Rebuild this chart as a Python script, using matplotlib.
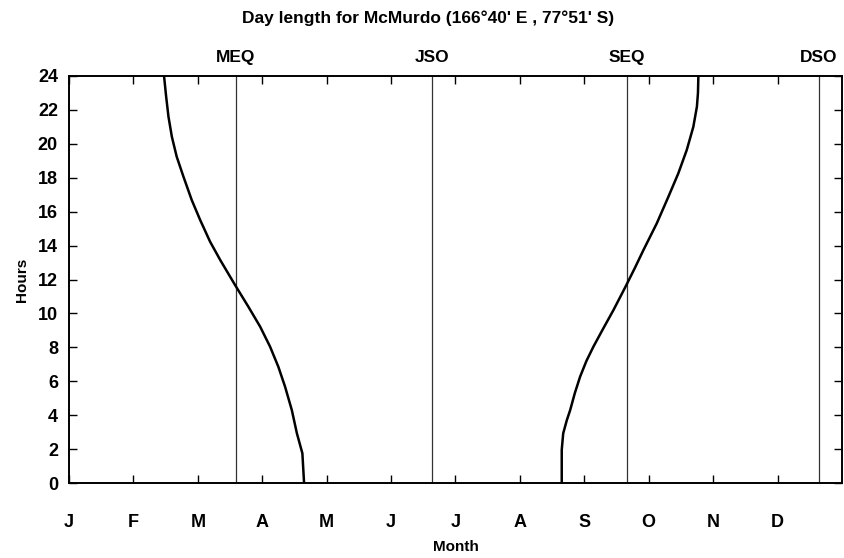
import numpy as np
import matplotlib
matplotlib.use("Agg")
import matplotlib.pyplot as plt
import matplotlib.transforms as mtransforms

# datos (dia del año, horas de luz)
otono_dia = [45.0, 46.0, 47.1, 48.7, 51.0, 54.2, 58.1, 62.1, 66.8, 71.6,
             78.6, 84.9, 90.5, 95.2, 99.1, 102.3, 105.5, 107.9, 110.5, 111.3]
otono_horas = [24.0, 22.78, 21.6, 20.42, 19.24, 18.06, 16.69, 15.51, 14.23, 13.15,
               11.68, 10.40, 9.22, 8.04, 6.86, 5.68, 4.30, 2.93, 1.75, 0.0]

primavera_dia = [233.3, 233.3, 234.0, 235.7, 237.3, 239.5, 242.0, 245.0, 248.3,
                 253.0, 257.8, 263.6, 268.0, 272.0, 278.3, 283.8, 288.5,
                 292.5, 295.6, 297.3, 297.8, 298.0]
primavera_horas = [0.0, 1.95, 2.93, 3.7, 4.30, 5.3, 6.27, 7.2, 8.04,
                   9.12, 10.2, 11.6, 12.7, 13.74, 15.31, 16.88, 18.26,
                   19.64, 21.0, 22.19, 23.0, 24.0]

meses = ['J', 'F', 'M', 'A', 'M', 'J', 'J', 'A', 'S', 'O', 'N', 'D']
eventos = ['MEQ', 'JSO', 'SEQ', 'DSO']
eventos_dia = [79, 172, 264, 355]

plt.rcParams['font.family'] = ['Liberation Sans', 'DejaVu Sans']

fig = plt.figure(figsize=(8.44, 5.58), dpi=100)
ax = fig.add_axes([69 / 844, 1 - 483 / 558, (842 - 69) / 844, (483 - 76) / 558])

# lineas de equinoccios y solsticios
trans = mtransforms.blended_transform_factory(ax.transData, ax.transAxes)
for nombre, d in zip(eventos, eventos_dia):
    ax.axvline(d, color='#333333', lw=0.9)
    ax.text(d, 1.027, nombre, transform=trans, ha='center', va='bottom',
            fontsize=12.5, fontweight='bold')

ax.plot(otono_dia, otono_horas, color='black', lw=1.8)
ax.plot(primavera_dia, primavera_horas, color='black', lw=1.8)

ax.set_xlim(0, 366)
ax.set_ylim(0, 24)
ax.set_xticks(np.arange(12) * 366 / 12)
ax.set_xticklabels(meses, fontsize=13, fontweight='bold')
ax.set_yticks(np.arange(0, 25, 2))
ax.set_yticklabels([str(v) for v in range(0, 25, 2)], fontsize=13, fontweight='bold')
ax.tick_params(axis='x', direction='in', length=6, width=1, pad=22, top=True)
ax.tick_params(axis='y', direction='in', length=6, width=1, pad=8, right=True)
for s in ax.spines.values():
    s.set_linewidth(1.4)

ax.set_xlabel('Month', fontsize=11, fontweight='bold', labelpad=7)
ax.set_ylabel('Hours', fontsize=11, fontweight='bold', labelpad=6)
fig.text(428 / 844, 1 - 18 / 558, "Day length for McMurdo (166°40' E , 77°51' S)",
         ha='center', va='center', fontsize=12.5, fontweight='bold')

fig.savefig('out.png', dpi=100)
